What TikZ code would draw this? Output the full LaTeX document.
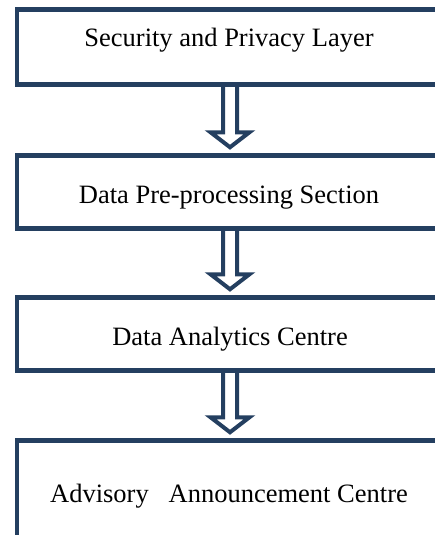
\documentclass[tikz,border=0pt]{standalone}
\usepackage{fontspec}
\setmainfont{Liberation Serif}
\usetikzlibrary{calc}
\definecolor{boxblue}{HTML}{243F60}
\tikzset{
  layer/.style={draw=boxblue, line width=4.5pt, minimum width=426pt, inner sep=0pt},
  flow/.style={draw=boxblue, line width=4pt, line join=miter},
  caption/.style={anchor=base, font=\fontsize{26.5}{30}\selectfont}
}
\begin{document}
\begin{tikzpicture}[x=1pt, y=1pt]
  \useasboundingbox (0,0) rectangle (435,-535);
  \clip (0,0) rectangle (435,-535);
  \node[layer, minimum height=75pt] (b1) at (230,-47) {};
  \node[layer, minimum height=73pt] (b2) at (230,-192) {};
  \node[layer, minimum height=73pt] (b3) at (230,-334) {};
  \node[layer, minimum height=119pt] (b4) at (230,-500) {};
  \node[caption] (t1) at (229,-46.5) {Security and Privacy Layer};
  \node[caption] (t2) at (229,-203) {Data Pre-processing Section};
  \node[caption] (t3) at (230,-345) {Data Analytics Centre};
  \node[caption] (t4) at (229,-502) {Advisory\ \ \ Announcement Centre};
  \foreach \a/\b in {b1/b2,b2/b3,b3/b4}
    \draw[flow] ($(\a.south)+(-7,0)$) -- ($(\b.north)+(-7,21)$) -- ($(\b.north)+(-19.5,21)$)
      -- ($(\b.north)+(0,6)$) -- ($(\b.north)+(19.5,21)$) -- ($(\b.north)+(7,21)$) -- ($(\a.south)+(7,0)$);
\end{tikzpicture}
\end{document}
